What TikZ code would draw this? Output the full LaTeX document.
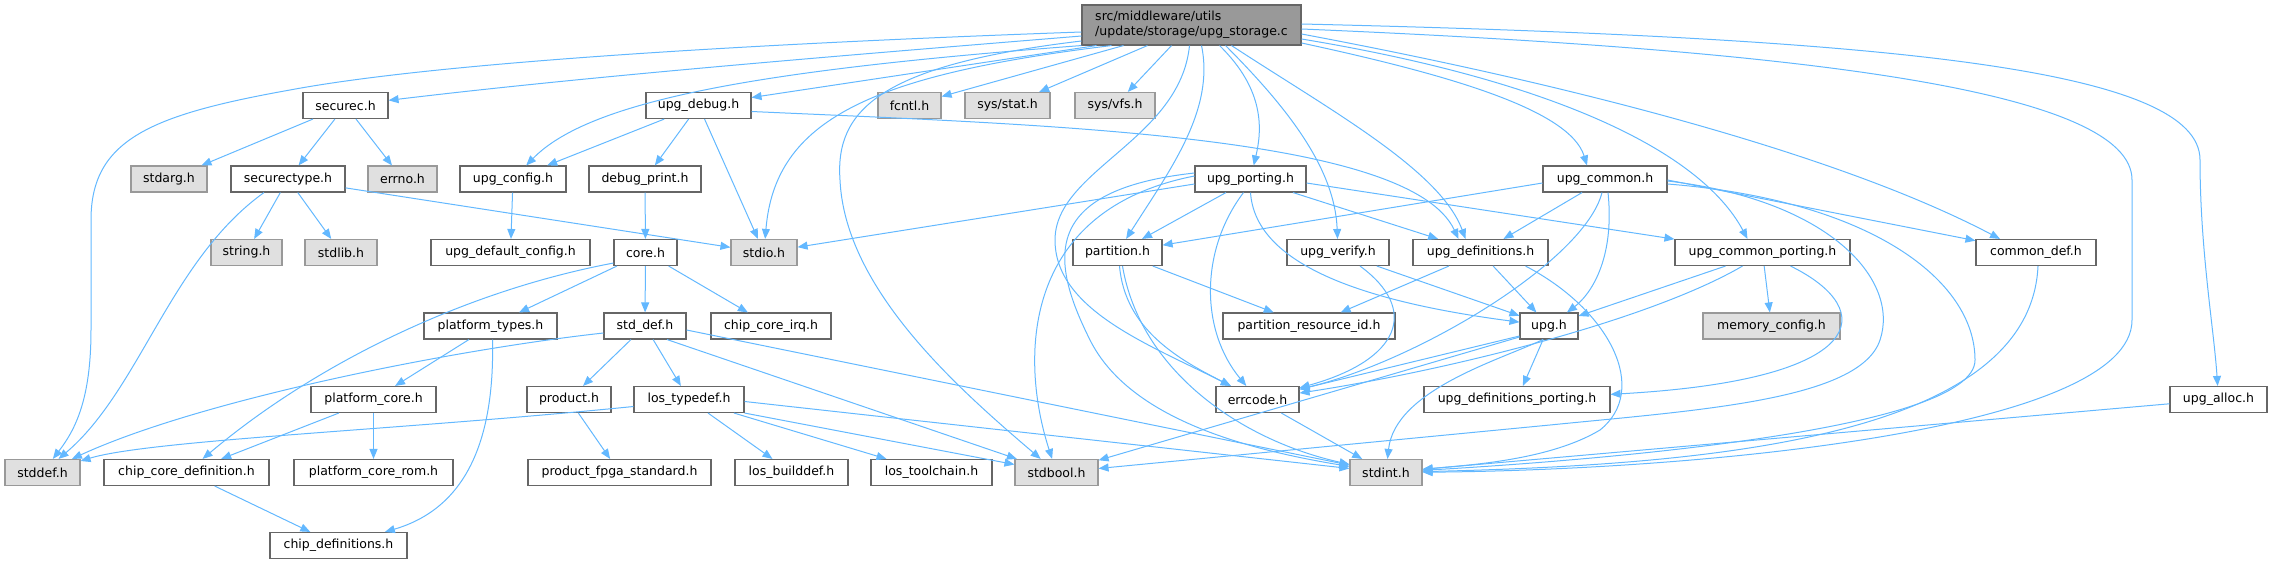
\documentclass[tikz,border=0pt]{standalone}
\usepackage{fontspec}
\setmainfont{DejaVu Sans}
\usetikzlibrary{arrows.meta}
\definecolor{edgec}{HTML}{63B8FF}
\definecolor{nodeb}{HTML}{666666}
\definecolor{extfill}{HTML}{E0E0E0}
\definecolor{extb}{HTML}{999999}
\definecolor{topfill}{HTML}{999999}
\begin{document}
\begin{tikzpicture}[x=1pt, y=-1pt,
  box/.style={draw=nodeb, fill=white, line width=1.1pt, inner sep=0pt, minimum height=26pt, font=\fontsize{12.5}{15}\selectfont},
  ext/.style={box, draw=extb, fill=extfill},
  topbox/.style={box, fill=topfill, minimum height=40pt, align=left},
  e/.style={draw=edgec, line width=1pt, -{Triangle[length=10pt,width=8pt]}}]
\useasboundingbox (0,0) rectangle (2272,564);
% ---------- nodes ----------
\node[topbox, minimum width=219pt] (T) at (1191.5,25) {src/middleware/utils\\/update/storage/upg\_storage.c};
% row 1
\node[box, minimum width=85pt]  (securec)  at (345.5,105.5) {securec.h};
\node[box, minimum width=105pt] (upgdebug) at (698.5,105.5) {upg\_debug.h};
\node[ext, minimum width=63pt]  (fcntl)    at (909.5,105.5) {fcntl.h};
\node[ext, minimum width=85pt]  (sysstat)  at (1007.5,105.5) {sys/stat.h};
\node[ext, minimum width=80pt]  (sysvfs)   at (1115,105.5) {sys/vfs.h};
% row 2
\node[ext, minimum width=76pt]  (stdarg)      at (169,179) {stdarg.h};
\node[box, minimum width=114pt] (securectype) at (288,179) {securectype.h};
\node[ext, minimum width=69pt]  (errno)       at (402.5,179) {errno.h};
\node[box, minimum width=106pt] (upgconfig)   at (513,179) {upg\_config.h};
\node[box, minimum width=112pt] (debugprint)  at (645,179) {debug\_print.h};
\node[box, minimum width=111pt] (upgporting)  at (1250.5,179) {upg\_porting.h};
\node[box, minimum width=124pt] (upgcommon)   at (1605,179) {upg\_common.h};
% row 3
\node[ext, minimum width=71pt]  (stringh)    at (246.5,252.5) {string.h};
\node[ext, minimum width=72pt]  (stdlibh)    at (341,252.5) {stdlib.h};
\node[box, minimum width=159pt] (upgdefcfg)  at (510.5,252.5) {upg\_default\_config.h};
\node[box, minimum width=63pt]  (coreh)      at (645.5,252.5) {core.h};
\node[ext, minimum width=66pt]  (stdioh)     at (764,252.5) {stdio.h};
\node[box, minimum width=89pt]  (partitionh) at (1117.5,252.5) {partition.h};
\node[box, minimum width=102pt] (upgverify)  at (1338,252.5) {upg\_verify.h};
\node[box, minimum width=135pt] (upgdefs)    at (1480.5,252.5) {upg\_definitions.h};
\node[box, minimum width=175pt] (ucp)        at (1762.5,252.5) {upg\_common\_porting.h};
\node[box, minimum width=120pt] (commondef)  at (2036,252.5) {common\_def.h};
% row 4
\node[box, minimum width=133pt] (platformtypes) at (490.5,326) {platform\_types.h};
\node[box, minimum width=82pt]  (stddefh)       at (645,326) {std\_def.h};
\node[box, minimum width=120pt] (chipcoreirq)   at (771,326) {chip\_core\_irq.h};
\node[box, minimum width=172pt] (partresid)     at (1309,326) {partition\_resource\_id.h};
\node[box, minimum width=58pt]  (upgh)          at (1549,326) {upg.h};
\node[ext, minimum width=137pt] (memcfg)        at (1771.5,326) {memory\_config.h};
% row 5
\node[box, minimum width=125pt] (platformcore) at (373.5,399.5) {platform\_core.h};
\node[box, minimum width=84pt]  (product)      at (569,399.5) {product.h};
\node[box, minimum width=110pt] (lostypedef)   at (689,399.5) {los\_typedef.h};
\node[box, minimum width=83pt]  (errcode)      at (1257.5,399.5) {errcode.h};
\node[box, minimum width=186pt] (udp)          at (1517,399.5) {upg\_definitions\_porting.h};
\node[box, minimum width=97pt]  (upgalloc)     at (2218.5,399.5) {upg\_alloc.h};
% row 6
\node[ext, minimum width=75pt]  (stddef)       at (42.5,472.5) {stddef.h};
\node[box, minimum width=165pt] (chipcoredef)  at (186.5,472.5) {chip\_core\_definition.h};
\node[box, minimum width=159pt] (pcrom)        at (373.5,472.5) {platform\_core\_rom.h};
\node[box, minimum width=183pt] (fpga)         at (619.5,472.5) {product\_fpga\_standard.h};
\node[box, minimum width=113pt] (losbuilddef)  at (791.5,472.5) {los\_builddef.h};
\node[box, minimum width=121pt] (lostoolchain) at (931.5,472.5) {los\_toolchain.h};
\node[ext, minimum width=83pt]  (stdbool)      at (1056.5,472.5) {stdbool.h};
\node[ext, minimum width=72pt]  (stdint)       at (1386,472.5) {stdint.h};
% row 7
\node[box, minimum width=137pt] (chipdefs) at (338.5,545.5) {chip\_definitions.h};
% ---------- edges ----------
% from top node
\draw[e] ([yshift=-7pt]T.west) .. controls (800,42) and (450,60) .. (290,90) .. controls (150,115) and (91,140) .. (91,220) -- (91,330) .. controls (91,400) and (75,430) .. (stddef);
\draw[e] ([yshift=-11pt]T.west) .. controls (850,55) and (600,75) .. (securec);
\draw[e] ([yshift=-16pt]T.west) .. controls (880,65) and (835,110) .. (840,180) .. controls (845,290) and (960,390) .. (stdbool);
\draw[e] (T.south west) .. controls (760,70) and (590,100) .. (upgconfig);
\draw[e] ([xshift=-95pt]T.south) -- (upgdebug);
\draw[e] ([xshift=-80pt]T.south) .. controls (870,75) and (775,120) .. (stdioh);
\draw[e] ([xshift=-68pt]T.south) -- (fcntl);
\draw[e] ([xshift=-44pt]T.south) -- (sysstat);
\draw[e] ([xshift=-20pt]T.south) -- (sysvfs);
\draw[e] ([xshift=-2pt]T.south) .. controls (1180,140) and (1055,170) .. (1055,240) .. controls (1055,310) and (1150,345) .. (errcode);
\draw[e] ([xshift=10pt]T.south) .. controls (1215,110) and (1170,170) .. (partitionh);
\draw[e] ([xshift=28pt]T.south) .. controls (1265,90) and (1262,130) .. (upgporting);
\draw[e] ([xshift=34pt]T.south) .. controls (1290,110) and (1335,170) .. (upgverify);
\draw[e] ([xshift=40pt]T.south) .. controls (1330,110) and (1440,170) .. ([xshift=-15pt]upgdefs.north);
\draw[e] ([yshift=-18pt]T.east) .. controls (1450,75) and (1570,110) .. ([xshift=-18pt]upgcommon.north);
\draw[e] ([yshift=-14pt]T.east) .. controls (1550,80) and (1700,150) .. ([xshift=-15pt]ucp.north);
\draw[e] ([yshift=-9pt]T.east) .. controls (1600,90) and (1850,160) .. ([xshift=-36pt]commondef.north);
\draw[e] ([yshift=-4pt]T.east) .. controls (1800,50) and (2132,90) .. (2132,180) -- (2132,320) .. controls (2132,430) and (1700,470) .. (stdint);
\draw[e] ([yshift=1pt]T.east) .. controls (1900,38) and (2200,70) .. (2200,160) .. controls (2200,250) and (2214,330) .. (upgalloc);
% securec / securectype
\draw[e] (securec) -- (stdarg);
\draw[e] (securec) -- (securectype);
\draw[e] (securec) -- (errno);
\draw[e] (securectype) -- (stringh);
\draw[e] (securectype) -- (stdlibh);
\draw[e] (securectype) -- (stdioh);
\draw[e] ([xshift=-24pt]securectype.south) .. controls (170,260) and (140,390) .. (stddef);
% upg_debug
\draw[e] (upgdebug) -- (upgconfig);
\draw[e] (upgdebug) -- (debugprint);
\draw[e] (upgdebug) -- (stdioh);
\draw[e] ([yshift=-6pt]upgdebug.east) .. controls (1050,125) and (1410,135) .. ([xshift=-22pt]upgdefs.north);
\draw[e] (upgconfig) -- (upgdefcfg);
\draw[e] (debugprint) -- (coreh);
% core
\draw[e] (coreh) -- (platformtypes);
\draw[e] (coreh) -- (stddefh);
\draw[e] (coreh) -- (chipcoreirq);
\draw[e] ([yshift=3pt]coreh.south west) .. controls (470,290) and (320,360) .. (chipcoredef);
\draw[e] (platformtypes) -- (platformcore);
\draw[e] ([xshift=2pt]platformtypes.south) .. controls (495,450) and (460,510) .. (chipdefs);
\draw[e] (platformcore) -- (chipcoredef);
\draw[e] (platformcore) -- (pcrom);
\draw[e] (chipcoredef) -- (chipdefs);
% std_def
\draw[e] ([yshift=-7pt]stddefh.west) .. controls (450,350) and (200,400) .. (stddef);
\draw[e] (stddefh) -- (product);
\draw[e] (stddefh) -- (lostypedef);
\draw[e] ([xshift=22pt]stddefh.south) -- (stdbool);
\draw[e] ([yshift=-4pt]stddefh.east) -- (stdint);
\draw[e] (product) -- (fpga);
% los_typedef
\draw[e] ([yshift=-7pt]lostypedef.west) .. controls (400,430) and (150,440) .. (stddef);
\draw[e] (lostypedef) -- (losbuilddef);
\draw[e] (lostypedef) -- (lostoolchain);
\draw[e] (lostypedef.south east) -- (stdbool);
\draw[e] ([yshift=-2pt]lostypedef.east) -- (stdint);
% upg_porting
\draw[e] ([yshift=-5pt]upgporting.west) -- (stdioh);
\draw[e] (upgporting) -- (partitionh);
\draw[e] (upgporting) -- (upgdefs);
\draw[e] ([yshift=-4pt]upgporting.east) -- (ucp);
\draw[e] (upgporting.south) .. controls (1255,260) and (1350,300) .. (upgh);
\draw[e] ([xshift=-7pt]upgporting.south) .. controls (1200,250) and (1200,330) .. (errcode);
\draw[e] ([yshift=3pt]upgporting.west) .. controls (1020,210) and (1020,360) .. (stdbool);
\draw[e] ([yshift=6pt]upgporting.west) .. controls (1040,190) and (1050,260) .. (1090,340) .. controls (1130,420) and (1250,450) .. (stdint);
% partition
\draw[e] (partitionh) -- (partresid);
\draw[e] ([xshift=2pt]partitionh.south) .. controls (1125,330) and (1180,360) .. (errcode);
\draw[e] ([xshift=5pt]partitionh.south) .. controls (1140,370) and (1240,440) .. (stdint);
% upg_verify
\draw[e] (upgverify) -- (upgh);
\draw[e] ([xshift=22pt]upgverify.south) .. controls (1420,310) and (1400,360) .. (errcode);
% upg_definitions
\draw[e] (upgdefs) -- (partresid);
\draw[e] (upgdefs) -- (upgh);
\draw[e] ([xshift=45pt]upgdefs.south) .. controls (1610,310) and (1650,390) .. (1600,430) .. controls (1550,460) and (1470,465) .. (stdint);
% upg.h
\draw[e] ([yshift=-10pt]upgh.west) -- (errcode);
\draw[e] (upgh) -- (udp);
\draw[e] ([yshift=-11pt]upgh.west) -- (stdbool);
\draw[e] ([xshift=-6pt]upgh.south) .. controls (1500,360) and (1395,390) .. (stdint);
\draw[e] (errcode) -- (stdint);
% upg_common
\draw[e] ([yshift=-4pt]upgcommon.west) -- (partitionh);
\draw[e] (upgcommon) -- (upgdefs);
\draw[e] ([xshift=3pt]upgcommon.south) .. controls (1615,260) and (1590,295) .. (upgh);
\draw[e] ([xshift=-3pt]upgcommon.south) .. controls (1585,260) and (1420,360) .. (errcode);
\draw[e] ([yshift=-1pt]upgcommon.east) -- (commondef);
\draw[e] ([yshift=-2pt]upgcommon.east) .. controls (1830,200) and (1900,280) .. (1880,340) .. controls (1860,400) and (1700,410) .. (1550,425) -- (stdbool);
\draw[e] ([yshift=-5pt]upgcommon.east) .. controls (1870,200) and (1975,280) .. (1975,360) .. controls (1975,430) and (1600,460) .. (stdint);
% upg_common_porting
\draw[e] (ucp) -- (memcfg);
\draw[e] ([xshift=-37pt]ucp.south) -- (upgh);
\draw[e] ([xshift=-20pt]ucp.south) .. controls (1650,320) and (1450,370) .. (errcode);
\draw[e] ([xshift=28pt]ucp.south) .. controls (1880,310) and (1870,380) .. (udp);
% common_def, upg_alloc
\draw[e] ([xshift=2pt]commondef.south) .. controls (2030,440) and (1700,465) .. (stdint);
\draw[e] (upgalloc) -- (stdint);
\end{tikzpicture}
\end{document}
